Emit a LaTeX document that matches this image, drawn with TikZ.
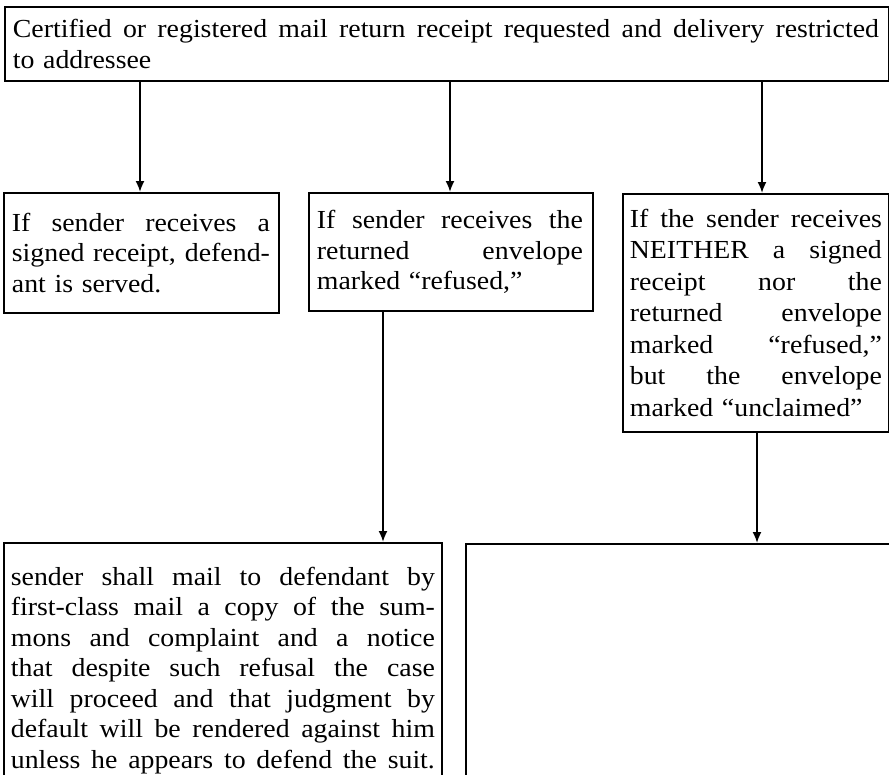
\documentclass[tikz,border=0pt]{standalone}
\usepackage{fontspec}
\setmainfont{Liberation Serif}[FakeStretch=1.07]
\usetikzlibrary{arrows.meta}
\newdimen\jw
\newcommand{\jl}[1]{\leavevmode\hbox to\jw{\spaceskip=.25em plus 1fil minus .1em\xspaceskip=\spaceskip #1}\\}
\begin{document}
\begin{tikzpicture}[x=1pt,y=-1pt,
  box/.style={draw, line width=1.8pt, inner xsep=8pt, inner ysep=0pt, align=left,
    anchor=north west, font=\fontsize{26}{30.5}\selectfont},
  arr/.style={line width=1.8pt, -{Latex[length=11pt,width=9pt]}}]
\path[use as bounding box, clip] (0,0) rectangle (889,774);
\fill[white] (0,0) rectangle (889,774);

\node[box, text width=868pt, minimum height=74pt] (top) at (4,6)
  {\jw=866pt \jl{Certified or registered mail return receipt requested and delivery restricted}to addressee};

\node[box, text width=259pt, minimum height=120pt] (b1) at (3,192)
  {\jw=258pt \jl{If sender receives a}\jl{signed receipt, defend-}ant is served.};
\node[box, text width=268pt, minimum height=118pt] (b2) at (308,192)
  {\jw=266pt \jl{If sender receives the}\jl{returned envelope}marked ``refused,''};
\node[box, text width=252pt, inner xsep=7pt, minimum height=238pt,
  font=\fontsize{26}{31.5}\selectfont] (b3) at (622,193)
  {\jw=252pt \jl{If the sender receives}\jl{NEITHER a signed}\jl{receipt nor the}\jl{returned envelope}\jl{marked ``refused,''}\jl{but the envelope}marked ``unclaimed''};

\node[box, text width=424pt, inner xsep=7pt, inner ysep=24pt] (b4) at (3,542)
  {\jw=424pt \jl{sender shall mail to defendant by}\jl{first-class mail a copy of the sum-}\jl{mons and complaint and a notice}\jl{that despite such refusal the case}\jl{will proceed and that judgment by}\jl{default will be rendered against him}\jl{unless he appears to defend the suit.}};
\node[box, minimum width=440pt, minimum height=260pt] (b5) at (465,543) {};

\coordinate (c1) at (140,0);
\coordinate (c2) at (450,0);
\coordinate (c3) at (762,0);
\coordinate (c4) at (383,0);
\coordinate (c5) at (757,0);

\draw[arr] (top.south -| c1) -- (b1.north -| c1);
\draw[arr] (top.south -| c2) -- (b2.north -| c2);
\draw[arr] (top.south -| c3) -- (b3.north -| c3);
\draw[arr] (b2.south -| c4) -- (b4.north -| c4);
\draw[arr] (b3.south -| c5) -- (b5.north -| c5);
\end{tikzpicture}
\end{document}
